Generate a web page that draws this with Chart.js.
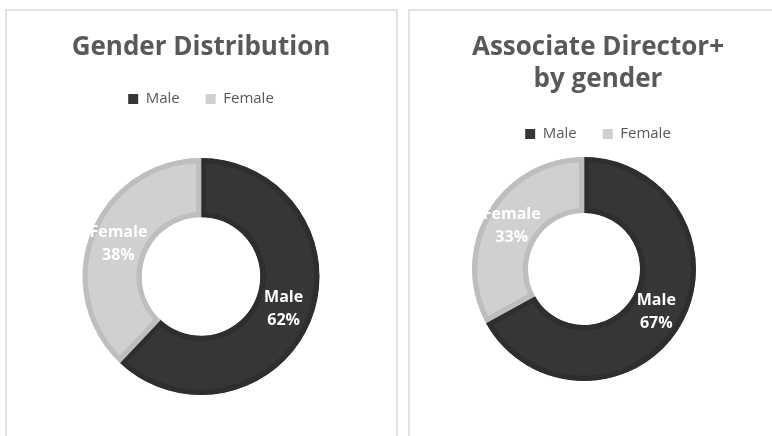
<!DOCTYPE html>
<html>
<head>
<meta charset="utf-8">
<script src="https://cdn.jsdelivr.net/npm/chart.js@4/dist/chart.umd.min.js"></script>
<style>
    body { margin: 0; background: #fff; overflow: hidden; width: 772px; height: 436px; position: relative; }
    .panel { position: absolute; top: 9px; height: 500px; border: 2px solid #e2e2e2; box-sizing: border-box; }
    canvas { position: absolute; top: 11px; }
</style>
</head>
<body>
<div class="panel" style="left:5px; width:393px;"></div>
<div class="panel" style="left:408px; width:420px;"></div>
<canvas id="gender-chart" width="388" height="440" style="left:7px;"></canvas>
<canvas id="director-chart" width="376" height="440" style="left:410px;"></canvas>
<script>
const categories = ['Male', 'Female'];
const genderValues = [62, 38];
const directorValues = [67, 33];
const genderTitle = 'Gender Distribution';
const directorTitle = ['Associate Director+', 'by gender'];

const fillColors = ['#363636', '#d0d0d0'];
const edgeColors = ['#2e2e2e', '#bebebe'];
const textGrey = '#595959';
const fontName = "'Open Sans', 'DejaVu Sans', sans-serif";

// white "Name / NN%" label in the middle of each slice
const sliceLabels = {
    id: 'sliceLabels',
    afterDatasetsDraw(chart) {
        const ctx = chart.ctx;
        const values = chart.data.datasets[0].data;
        const total = values.reduce((a, b) => a + b, 0);
        ctx.save();
        ctx.fillStyle = '#ffffff';
        ctx.font = 'bold 16px ' + fontName;
        ctx.textAlign = 'center';
        ctx.textBaseline = 'middle';
        chart.getDatasetMeta(0).data.forEach((arc, i) => {
            const pos = arc.tooltipPosition();
            const pct = Math.round(values[i] / total * 100) + '%';
            ctx.fillText(chart.data.labels[i], pos.x, pos.y - 11.5);
            ctx.fillText(pct, pos.x, pos.y + 11.5);
        });
        ctx.restore();
    }
};

// moves the plot sideways when the donut is not under the title
const shiftPlot = {
    id: 'shiftPlot',
    afterLayout(chart, args, opts) {
        const dx = opts.dx || 0;
        chart.chartArea.left += dx;
        chart.chartArea.right += dx;
    }
};

function makeDonut(canvasId, values, title, radius, titleBottom, padBottom, dx) {
    const ctx = document.getElementById(canvasId).getContext('2d');
    return new Chart(ctx, {
        type: 'doughnut',
        data: {
            labels: categories,
            datasets: [{
                data: values,
                backgroundColor: fillColors,
                borderColor: edgeColors,
                borderWidth: 5,
                borderAlign: 'inner',
                hoverOffset: 0,
                offset: 0
            }]
        },
        options: {
            responsive: false,
            animation: false,
            cutout: '50%',
            radius: radius,
            layout: { padding: { bottom: padBottom } },
            plugins: {
                title: {
                    display: true,
                    text: title,
                    color: textGrey,
                    font: { family: fontName, size: 26, weight: 'bold', lineHeight: 1.25 },
                    padding: { top: 20, bottom: titleBottom }
                },
                legend: {
                    position: 'top',
                    labels: {
                        color: textGrey,
                        font: { family: fontName, size: 15 },
                        boxWidth: 10,
                        boxHeight: 10,
                        padding: 26,
                        generateLabels(chart) {
                            const items = Chart.overrides.doughnut.plugins.legend.labels.generateLabels(chart);
                            items.forEach(item => { item.lineWidth = 0; });
                            return items;
                        }
                    }
                },
                tooltip: { enabled: false },
                shiftPlot: { dx: dx }
            }
        },
        plugins: [sliceLabels, shiftPlot]
    });
}

makeDonut('gender-chart', genderValues, genderTitle, 118.5, 2, 14.5, 0);
makeDonut('director-chart', directorValues, directorTitle, 112, 4.5, 64.5, -14);
</script>
</body>
</html>
